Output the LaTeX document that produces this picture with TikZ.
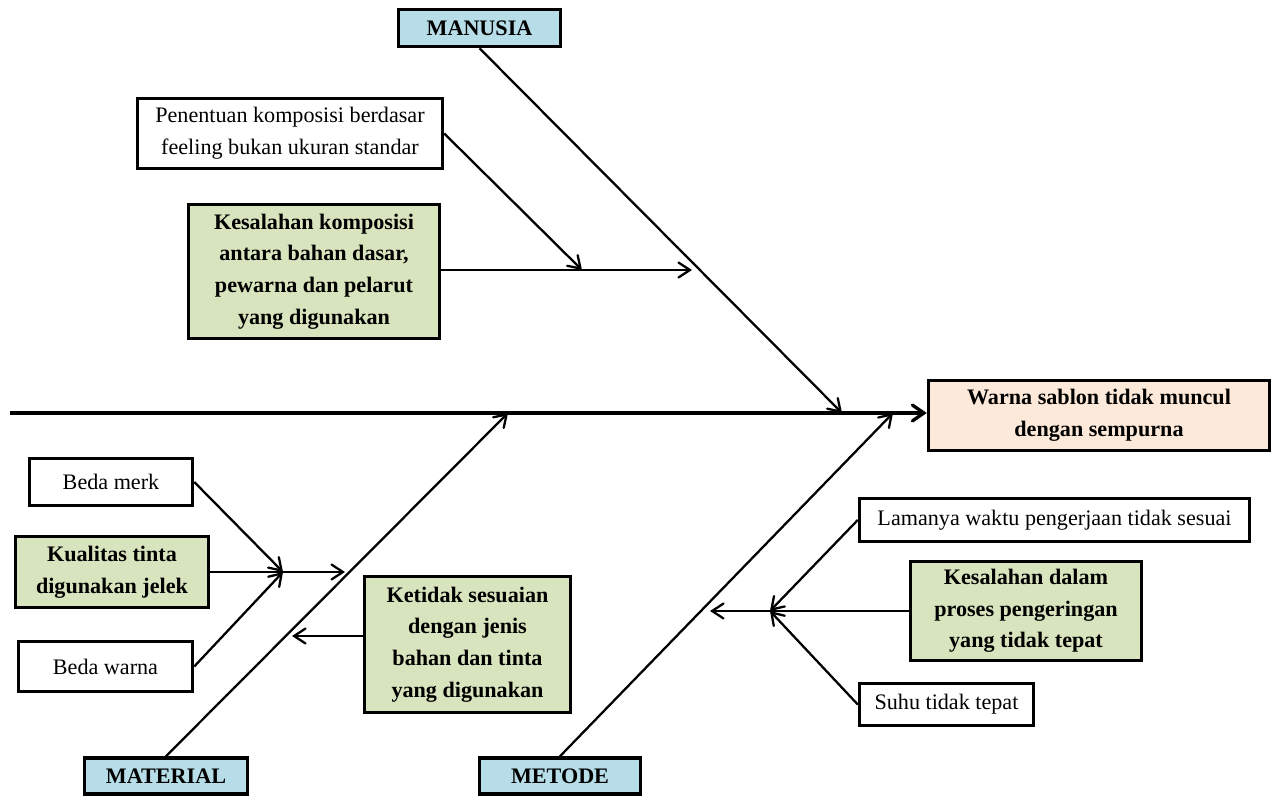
\documentclass[tikz,border=0pt]{standalone}
\usepackage{fontspec}
\setmainfont{Liberation Serif}
\usetikzlibrary{arrows.meta,positioning}
\definecolor{catblue}{HTML}{B7DDE8}
\definecolor{causegreen}{HTML}{D7E4BD}
\definecolor{effectpeach}{HTML}{FDE9D9}
\tikzset{
  cause/.style={
    rectangle,
    draw=black,
    line width=2pt,
    fill=white,
    align=center,
    inner sep=2pt,
    font=\fontsize{12.6}{18}\selectfont
  },
  causeg/.style={
    cause,
    fill=causegreen,
    font=\bfseries\fontsize{12.6}{18}\selectfont
  },
  category/.style={
    cause,
    fill=catblue,
    font=\bfseries\fontsize{12.6}{14}\selectfont
  },
  effectbox/.style={
    cause,
    fill=effectpeach,
    font=\bfseries\fontsize{12.6}{18}\selectfont
  },
  bone/.style={
    line width=1.3pt,
    -{Straight Barb[length=6.5pt,width=8.5pt,line cap=round]}
  },
  spine/.style={
    line width=1.9pt,
    -{Straight Barb[length=6.5pt,width=9pt,line cap=round]}
  }
}

\begin{document}
\begin{tikzpicture}[x=0.02cm, y=-0.02cm]
  \useasboundingbox (0,0) rectangle (1278,797);

  % ------------------------------------------------------------------
  % Effect and spine
  % ------------------------------------------------------------------
  \node[effectbox, minimum width=6.82cm, minimum height=1.40cm] (akibat) at (1099,415.5)
    {Warna sablon tidak muncul\\dengan sempurna};
  \coordinate (tail) at (10,413);
  \draw[spine] (tail) -- (akibat.west |- tail);

  % ------------------------------------------------------------------
  % Categories
  % ------------------------------------------------------------------
  \node[category, minimum width=3.24cm, minimum height=0.74cm] (manusia) at (479.5,28) {MANUSIA};
  \node[category, minimum width=3.26cm, minimum height=0.72cm] (material) at (166,776) {MATERIAL};
  \node[category, minimum width=3.22cm, minimum height=0.72cm] (metode) at (560,776) {METODE};

  \coordinate (jManusia) at (842,413);
  \coordinate (jMaterial) at (508,413);
  \coordinate (jMetode) at (893,413);
  \draw[bone] (manusia.south) -- (jManusia);
  \draw[bone] (material.north) -- (jMaterial);
  \draw[bone] (metode.north) -- (jMetode);

  % ------------------------------------------------------------------
  % MANUSIA
  % ------------------------------------------------------------------
  \node[cause, minimum width=6.10cm, minimum height=1.40cm] (penentuan) at (290,133.5)
    {Penentuan komposisi berdasar\\feeling bukan ukuran standar};
  \node[causeg, minimum width=5.02cm, minimum height=2.68cm] (komposisi) at (314,271.5)
    {Kesalahan komposisi\\antara bahan dasar,\\pewarna dan pelarut\\yang digunakan};

  \coordinate (kManusia) at (692,270);
  \coordinate (kKomposisi) at (582,270);
  \draw[bone] (komposisi.east |- kManusia) -- (kManusia);
  \draw[bone] (penentuan.east) -- (kKomposisi);

  % ------------------------------------------------------------------
  % MATERIAL
  % ------------------------------------------------------------------
  \node[cause, minimum width=3.26cm, minimum height=0.94cm] (merk) at (111,482) {Beda merk};
  \node[causeg, minimum width=3.86cm, minimum height=1.42cm] (kualitas) at (112,572)
    {Kualitas tinta\\digunakan jelek};
  \node[cause, minimum width=3.48cm, minimum height=1.00cm] (bwarna) at (105.5,666.5) {Beda warna};
  \node[causeg, minimum width=4.12cm, minimum height=2.72cm] (ketidak) at (467.5,644.5)
    {Ketidak sesuaian\\dengan jenis\\bahan dan tinta\\yang digunakan};

  \coordinate (kMaterial) at (345,572);
  \coordinate (kKualitas) at (283,572);
  \coordinate (kKetidak) at (292,636);
  \draw[bone] (kualitas.east) -- (kMaterial);
  \draw[bone] (merk.east) -- (kKualitas);
  \draw[bone] (bwarna.east) -- (kKualitas);
  \draw[bone] (ketidak.west |- kKetidak) -- (kKetidak);

  % ------------------------------------------------------------------
  % METODE
  % ------------------------------------------------------------------
  \node[cause, minimum width=7.80cm, minimum height=0.86cm] (lamanya) at (1054.5,520)
    {Lamanya waktu pengerjaan tidak sesuai};
  \node[causeg, minimum width=4.62cm, minimum height=1.98cm] (pengeringan) at (1026,611)
    {Kesalahan dalam\\proses pengeringan\\yang tidak tepat};
  \node[cause, minimum width=3.48cm, minimum height=0.84cm] (suhu) at (946.5,704.5) {Suhu tidak tepat};

  \coordinate (kMetode) at (710,611);
  \coordinate (kPengeringan) at (770,611);
  \draw[bone] (pengeringan.west) -- (kMetode);
  \draw[bone] (lamanya.west) -- (kPengeringan);
  \draw[bone] (suhu.west) -- (kPengeringan);
\end{tikzpicture}
\end{document}
